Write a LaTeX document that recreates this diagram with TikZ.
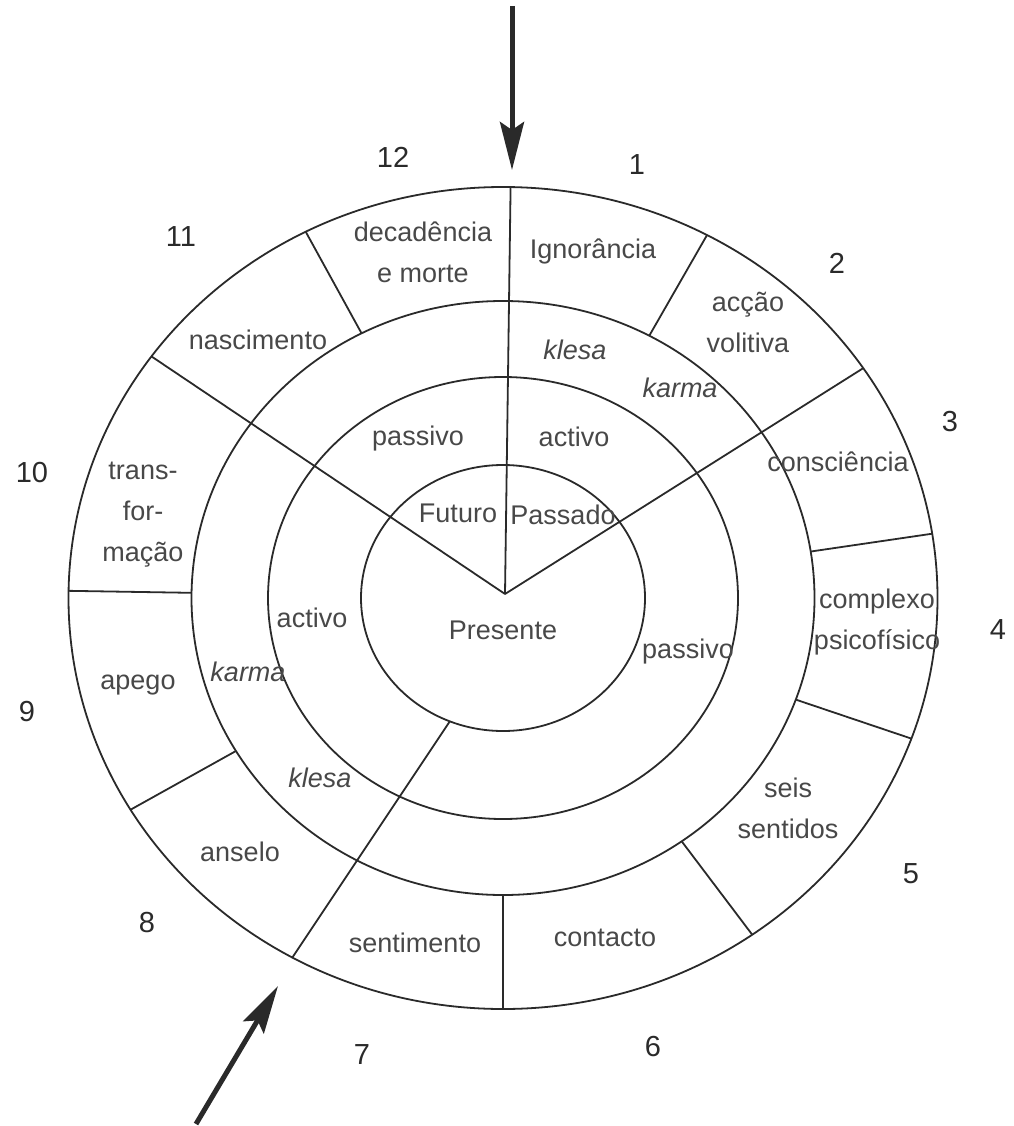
\documentclass[tikz,border=0pt]{standalone}
\usepackage{fontspec}
\setmainfont{Liberation Sans}
\setsansfont{Liberation Sans}
\usetikzlibrary{arrows.meta,calc}
\definecolor{ink}{HTML}{2A2A2A}
\definecolor{txt}{HTML}{484848}
\begin{document}
\begin{tikzpicture}[x=1pt,y=-1pt,
  ring/.style={draw=ink,line width=1.8pt},
  divider/.style={draw=ink,line width=1.8pt},
  lbl/.style={text=txt,font=\fontsize{27}{41}\selectfont,align=center,inner sep=0pt},
  klbl/.style={text=txt,font=\fontsize{27}{41}\selectfont\itshape,align=center,inner sep=0pt},
  num/.style={text=ink,font=\fontsize{29}{30}\selectfont,inner sep=0pt},
  bigarrow/.style={draw=ink,line width=5pt,-{Stealth[length=48pt,width=24pt,inset=8pt]}}
]
\useasboundingbox (0,0) rectangle (1013,1126);
\coordinate (C) at (503,598);
\coordinate (V) at (505,594);
% rings
\draw[ring] (C) ellipse [x radius=434.5pt, y radius=411pt];
\draw[ring] (C) ellipse [x radius=311.5pt, y radius=297pt];
\draw[ring] (C) ellipse [x radius=235pt, y radius=221pt];
\draw[ring] (C) ellipse [x radius=142pt, y radius=133pt];
% divider end points
\foreach \a in {89,117,144,179,211,241,270,305,340,9,34,62} {
  \path (C) ++(\a:434.5pt and 411pt) coordinate (o\a);
  \path (C) ++(\a:311.5pt and 297pt) coordinate (s\a);
}
\path (C) ++(248:142pt and 133pt) coordinate (i248);
% full dividers to the centre
\draw[divider] (o89) -- (V);
\draw[divider] (o144) -- (V);
\draw[divider] (o34) -- (V);
% outer ring dividers
\foreach \a in {117,179,211,270,305,340,9,62} \draw[divider] (o\a) -- (s\a);
\draw[divider] (o241) -- (i248);
% arrows
\coordinate (topA) at (512,6);
\coordinate (topT) at (512,170);
\draw[bigarrow] (topA) -- (topT);
\coordinate (blA) at (196,1124);
\coordinate (blT) at (278,986);
\draw[bigarrow] (blA) -- (blT);
% outer ring labels
\node[lbl] (decad) at (423,252) {decadência\\e morte};
\node[lbl] (ignor) at (593,251) {Ignorância};
\node[lbl] (accao) at (748,322) {acção\\volitiva};
\node[lbl] (consc) at (838,462) {consciência};
\node[lbl] (complx) at (877,622) {complexo\\psicofísico};
\node[lbl] (seis) at (788,808) {seis\\sentidos};
\node[lbl] (contac) at (605,938) {contacto};
\node[lbl] (sentim) at (415,943) {sentimento};
\node[lbl] (anselo) at (240,852) {anselo};
\node[lbl] (apego) at (138,685) {apego};
\node[lbl] (transf) at (143,515) {trans-\\for-\\mação};
\node[lbl] (nasc) at (258,340) {nascimento};
% second ring
\node[klbl] (klesaA) at (575,350) {klesa};
\node[klbl] (karmaA) at (680,388) {karma};
\node[klbl] (karmaB) at (248,672) {karma};
\node[klbl] (klesaB) at (320,778) {klesa};
% third ring
\node[lbl] (passA) at (418,439) {passivo};
\node[lbl] (actA) at (574,437) {activo};
\node[lbl] (actB) at (312,618) {activo};
\node[lbl] (passB) at (688,652) {passivo};
% inner circle
\node[lbl] (fut) at (458,513) {Futuro};
\node[lbl] (pas) at (563,515) {Passado};
\node[lbl] (pres) at (503,630) {Presente};
% numbers
\node[num] (n12) at (393,157) {12};
\node[num] (n1) at (637,165) {1};
\node[num] (n11) at (181,237) {11};
\node[num] (n2) at (837,263) {2};
\node[num] (n3) at (950,422) {3};
\node[num] (n10) at (32,473) {10};
\node[num] (n4) at (998,630) {4};
\node[num] (n9) at (27,712) {9};
\node[num] (n8) at (147,923) {8};
\node[num] (n5) at (911,874) {5};
\node[num] (n7) at (362,1055) {7};
\node[num] (n6) at (653,1047) {6};
\end{tikzpicture}
\end{document}
